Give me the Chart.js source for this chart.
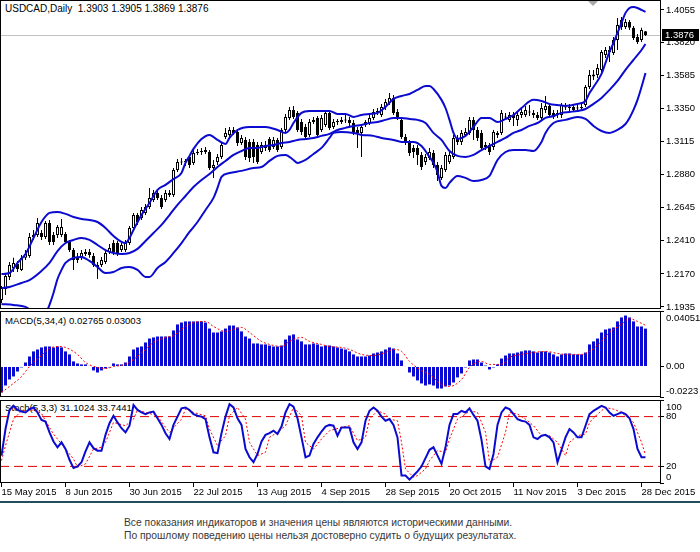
<!DOCTYPE html>
<html>
<head>
<meta charset="utf-8">
<title>USDCAD Daily</title>
<script src="https://cdn.jsdelivr.net/npm/chart.js@4.4.1/dist/chart.umd.min.js"></script>
<style>
  html, body { margin: 0; padding: 0; background: #fff; }
  body { position: relative; width: 700px; height: 552px; overflow: hidden;
         font-family: "Liberation Sans", Arial, sans-serif; }
  .lbl { position: absolute; left: 5px; font-size: 10px; line-height: 12px; color: #000; white-space: pre; }
  .sub { font-size: 9.6px; }
  canvas { position: absolute; left: 0; }
  #rule { position: absolute; left: 0; top: 501px; width: 700px; height: 2px; background: #1f4f5e; }
  #note { position: absolute; left: 124px; top: 516px; font-size: 10.3px; line-height: 13px; color: #383838; white-space: nowrap; }
</style>
</head>
<body>
<div class="lbl" id="title" style="top:3px"></div>
<div class="lbl sub" id="macdTitle" style="top:315px"></div>
<div class="lbl sub" id="stochTitle" style="top:402px"></div>
<canvas id="main" width="700" height="314" style="top:0"></canvas>
<canvas id="macd" width="700" height="90" style="top:310px"></canvas>
<canvas id="stoch" width="700" height="103" style="top:399px"></canvas>
<div id="rule"></div>
<div id="note">Все показания индикаторов и значения цены являются историческими данными.<br>По прошлому поведению цены нельзя достоверно судить о будущих результатах.</div>
<script>
// ---- data ----
var dateLabels = ['15 May 2015', '8 Jun 2015', '30 Jun 2015', '22 Jul 2015', '13 Aug 2015', '4 Sep 2015',
                  '28 Sep 2015', '20 Oct 2015', '11 Nov 2015', '3 Dec 2015', '28 Dec 2015'];
var dateIdx = [0, 16, 32, 48, 64, 80, 96, 112, 128, 144, 160];
var priceTicks = [1.4055, 1.3820, 1.3585, 1.3350, 1.3115, 1.2880, 1.2645, 1.2410, 1.2170, 1.1935];

var opens = [
  1.1984,1.2063,1.2149,1.2213,1.2242,1.2199,1.2285,1.2299,1.2434,1.2449,
  1.2463,1.2434,1.2534,1.2449,1.2449,1.2449,1.2456,1.2399,1.2341,1.2285,
  1.2292,1.2313,1.2327,1.2299,1.2235,1.2235,1.2256,1.2327,1.2391,1.2391,
  1.2341,1.2341,1.2391,1.2499,1.2591,1.2570,1.2606,1.2648,1.2698,1.2748,
  1.2713,1.2698,1.2734,1.2734,1.2913,1.2970,1.2970,1.3006,1.2963,1.3034,
  1.3041,1.3041,1.3041,1.2927,1.2970,1.3006,1.3148,1.3163,1.3198,1.3184,
  1.3105,1.3127,1.3113,1.3113,1.3091,1.3041,1.3091,1.3134,1.3077,1.3127,
  1.3077,1.3198,1.3284,1.3341,1.3320,1.3255,1.3220,1.3163,1.3255,1.3284,
  1.3198,1.3234,1.3320,1.3220,1.3255,1.3255,1.3270,1.3270,1.3248,1.3198,
  1.3177,1.3234,1.3248,1.3284,1.3327,1.3305,1.3363,1.3391,1.3427,1.3327,
  1.3270,1.3148,1.3105,1.3070,1.3070,1.3020,1.2970,1.2998,1.3034,1.2948,
  1.2856,1.2913,1.2970,1.3006,1.3141,1.3113,1.3163,1.3177,1.3270,1.3198,
  1.3177,1.3091,1.3091,1.3077,1.3177,1.3177,1.3291,1.3270,1.3305,1.3270,
  1.3305,1.3305,1.3327,1.3320,1.3305,1.3284,1.3341,1.3370,1.3320,1.3320,
  1.3305,1.3363,1.3363,1.3363,1.3355,1.3355,1.3377,1.3505,1.3580,1.3591,
  1.3627,1.3734,1.3755,1.3748,1.3841,1.3984,1.3934,1.3969,1.3927,1.3862,
  1.3841,1.3903];
var highs = [
  1.2084,1.2177,1.2256,1.2285,1.2263,1.2306,1.2341,1.2463,1.2484,1.2570,
  1.2484,1.2549,1.2556,1.2470,1.2520,1.2563,1.2470,1.2413,1.2356,1.2320,
  1.2341,1.2349,1.2349,1.2320,1.2256,1.2292,1.2341,1.2384,1.2413,1.2406,
  1.2399,1.2413,1.2513,1.2606,1.2606,1.2648,1.2670,1.2784,1.2770,1.2770,
  1.2734,1.2770,1.2770,1.2927,1.2991,1.2998,1.2991,1.3020,1.3055,1.3063,
  1.3070,1.3077,1.3055,1.2984,1.3027,1.3105,1.3213,1.3220,1.3220,1.3205,
  1.3163,1.3148,1.3134,1.3134,1.3113,1.3113,1.3120,1.3148,1.3148,1.3141,
  1.3213,1.3312,1.3363,1.3370,1.3334,1.3277,1.3241,1.3277,1.3291,1.3298,
  1.3305,1.3341,1.3341,1.3277,1.3277,1.3291,1.3305,1.3291,1.3270,1.3220,
  1.3241,1.3270,1.3305,1.3348,1.3355,1.3384,1.3420,1.3462,1.3448,1.3348,
  1.3291,1.3170,1.3127,1.3091,1.3091,1.3041,1.3027,1.3070,1.3055,1.2970,
  1.2948,1.3041,1.3041,1.3163,1.3163,1.3198,1.3213,1.3291,1.3291,1.3220,
  1.3198,1.3113,1.3105,1.3198,1.3191,1.3341,1.3320,1.3327,1.3327,1.3327,
  1.3355,1.3370,1.3377,1.3341,1.3327,1.3391,1.3441,1.3384,1.3341,1.3341,
  1.3391,1.3391,1.3384,1.3384,1.3384,1.3398,1.3519,1.3627,1.3627,1.3669,
  1.3769,1.3791,1.3798,1.3862,1.3998,1.4005,1.3991,1.3984,1.3941,1.3884,
  1.3927,1.3905];
var lows = [
  1.1963,1.2020,1.2127,1.2184,1.2184,1.2192,1.2270,1.2285,1.2413,1.2434,
  1.2413,1.2420,1.2377,1.2377,1.2427,1.2434,1.2384,1.2327,1.2199,1.2249,
  1.2270,1.2299,1.2285,1.2220,1.2134,1.2220,1.2242,1.2313,1.2306,1.2299,
  1.2327,1.2327,1.2377,1.2484,1.2520,1.2556,1.2591,1.2634,1.2684,1.2698,
  1.2634,1.2684,1.2720,1.2720,1.2898,1.2948,1.2941,1.2927,1.2948,1.3020,
  1.3020,1.3027,1.2913,1.2856,1.2948,1.2991,1.3134,1.3148,1.3163,1.3084,
  1.3091,1.2984,1.2970,1.2963,1.2956,1.3027,1.3048,1.3041,1.3063,1.3041,
  1.3063,1.3184,1.3270,1.3277,1.3184,1.3163,1.3127,1.3148,1.3241,1.3148,
  1.3184,1.3220,1.3198,1.3205,1.3234,1.3241,1.3248,1.3227,1.3163,1.3070,
  1.3006,1.3220,1.3234,1.3270,1.3305,1.3291,1.3341,1.3377,1.3305,1.3270,
  1.3134,1.3091,1.3013,1.2998,1.2948,1.2913,1.2948,1.2984,1.2927,1.2834,
  1.2841,1.2898,1.2956,1.2991,1.3091,1.3091,1.3148,1.3163,1.3127,1.3120,
  1.3055,1.3055,1.3020,1.3055,1.3141,1.3163,1.3270,1.3255,1.3227,1.3227,
  1.3284,1.3291,1.3298,1.3284,1.3270,1.3270,1.3320,1.3291,1.3277,1.3284,
  1.3284,1.3341,1.3334,1.3327,1.3334,1.3341,1.3363,1.3491,1.3555,1.3569,
  1.3612,1.3712,1.3684,1.3734,1.3769,1.3912,1.3919,1.3912,1.3841,1.3812,
  1.3826,1.3869];
var closes = [
  1.2070,1.2156,1.2235,1.2249,1.2206,1.2285,1.2313,1.2434,1.2449,1.2534,
  1.2434,1.2534,1.2399,1.2399,1.2506,1.2506,1.2399,1.2341,1.2270,1.2270,
  1.2320,1.2327,1.2306,1.2235,1.2220,1.2270,1.2320,1.2356,1.2327,1.2320,
  1.2377,1.2391,1.2499,1.2591,1.2541,1.2627,1.2648,1.2713,1.2748,1.2713,
  1.2648,1.2748,1.2748,1.2913,1.2970,1.2966,1.2974,1.2948,1.3034,1.3041,
  1.3045,1.3055,1.2927,1.2948,1.3006,1.3091,1.3177,1.3198,1.3177,1.3105,
  1.3141,1.3006,1.2998,1.3006,1.2970,1.3091,1.3070,1.3055,1.3127,1.3055,
  1.3198,1.3291,1.3341,1.3291,1.3198,1.3184,1.3148,1.3255,1.3270,1.3163,
  1.3284,1.3320,1.3213,1.3255,1.3259,1.3270,1.3266,1.3248,1.3177,1.3177,
  1.3220,1.3255,1.3284,1.3327,1.3331,1.3363,1.3398,1.3427,1.3320,1.3284,
  1.3148,1.3105,1.3034,1.3041,1.3020,1.2934,1.3006,1.3041,1.2948,1.2877,
  1.2927,1.3020,1.3020,1.3141,1.3113,1.3177,1.3184,1.3270,1.3198,1.3141,
  1.3070,1.3077,1.3041,1.3184,1.3163,1.3320,1.3287,1.3305,1.3284,1.3305,
  1.3327,1.3341,1.3323,1.3305,1.3284,1.3355,1.3370,1.3305,1.3291,1.3305,
  1.3377,1.3359,1.3355,1.3341,1.3351,1.3363,1.3505,1.3591,1.3594,1.3641,
  1.3755,1.3769,1.3769,1.3841,1.3948,1.3934,1.3969,1.3927,1.3855,1.3826,
  1.3912,1.3876];

// Bollinger bands as [bar, price] readings
var bbUpper = [[0,1.2170],[2,1.2177],[4,1.2249],[6,1.2313],[8,1.2427],[10,1.2541],[12,1.2606],[14,1.2613],
  [16,1.2599],[18,1.2577],[20,1.2563],[22,1.2556],[24,1.2541],[26,1.2499],[28,1.2441],[30,1.2399],[31,1.2391],
  [32,1.2427],[33,1.2484],[35,1.2591],[37,1.2677],[39,1.2770],[41,1.2806],[43,1.2848],[45,1.2891],[46,1.2963],
  [47,1.3013],[48,1.3063],[50,1.3134],[52,1.3163],[54,1.3127],[56,1.3098],[57,1.3141],[59,1.3198],[62,1.3220],
  [64,1.3220],[66,1.3220],[69,1.3198],[71,1.3177],[72,1.3198],[73,1.3248],[75,1.3320],[77,1.3334],[80,1.3334],
  [82,1.3334],[84,1.3312],[86,1.3312],[88,1.3291],[90,1.3305],[92,1.3312],[94,1.3320],[96,1.3363],[98,1.3420],
  [100,1.3441],[102,1.3455],[104,1.3484],[106,1.3512],[107,1.3512],[108,1.3491],[110,1.3413],[111,1.3355],
  [112,1.3270],[113,1.3177],[114,1.3134],[116,1.3156],[118,1.3220],[120,1.3284],[122,1.3284],[124,1.3255],
  [126,1.3277],[128,1.3305],[130,1.3355],[133,1.3413],[135,1.3405],[137,1.3384],[139,1.3377],[141,1.3370],
  [144,1.3384],[146,1.3405],[147,1.3462],[148,1.3505],[150,1.3598],[151,1.3677],[152,1.3755],[153,1.3819],
  [154,1.3891],[155,1.3962],[156,1.4034],[157,1.4069],[158,1.4076],[159,1.4069],[160,1.4055],[161,1.4041]];
var bbMiddle = [[0,1.2070],[2,1.2077],[5,1.2106],[7,1.2127],[10,1.2192],[12,1.2249],[14,1.2334],[16,1.2391],
  [18,1.2413],[20,1.2427],[22,1.2413],[24,1.2377],[26,1.2341],[28,1.2320],[30,1.2313],[32,1.2320],[34,1.2349],
  [36,1.2406],[38,1.2463],[40,1.2520],[42,1.2591],[44,1.2663],[46,1.2727],[48,1.2791],[50,1.2841],[52,1.2884],
  [54,1.2934],[56,1.2977],[58,1.3020],[60,1.3048],[62,1.3070],[64,1.3070],[66,1.3084],[68,1.3091],[70,1.3105],
  [72,1.3113],[74,1.3127],[76,1.3134],[78,1.3141],[80,1.3156],[82,1.3170],[84,1.3198],[86,1.3213],[88,1.3227],
  [90,1.3234],[92,1.3248],[94,1.3255],[96,1.3270],[98,1.3284],[100,1.3284],[102,1.3277],[104,1.3270],
  [106,1.3248],[108,1.3177],[110,1.3127],[112,1.3048],[114,1.3013],[116,1.3006],[118,1.3020],[120,1.3055],
  [122,1.3084],[124,1.3113],[126,1.3141],[128,1.3177],[130,1.3198],[132,1.3227],[134,1.3248],[136,1.3284],
  [138,1.3298],[140,1.3320],[142,1.3327],[144,1.3334],[146,1.3348],[148,1.3384],[150,1.3427],[152,1.3484],
  [154,1.3548],[156,1.3627],[158,1.3698],[160,1.3769],[161,1.3812]];
var bbLower = [[0,1.1956],[3,1.1949],[6,1.1935],[8,1.1899],[10,1.1856],[11,1.1885],[12,1.1949],[13,1.2034],
  [14,1.2134],[15,1.2199],[16,1.2249],[18,1.2285],[20,1.2292],[22,1.2263],[24,1.2220],[26,1.2177],[28,1.2184],
  [30,1.2213],[32,1.2220],[34,1.2199],[36,1.2149],[37,1.2149],[39,1.2213],[41,1.2256],[43,1.2320],[45,1.2391],
  [47,1.2470],[49,1.2541],[51,1.2627],[53,1.2713],[54,1.2784],[55,1.2863],[57,1.2891],[60,1.2906],[63,1.2927],
  [65,1.2934],[67,1.2977],[69,1.3013],[71,1.3020],[73,1.2984],[74,1.2963],[76,1.2984],[78,1.3027],[80,1.3070],
  [82,1.3141],[83,1.3177],[85,1.3184],[88,1.3177],[90,1.3163],[93,1.3156],[95,1.3141],[98,1.3127],[100,1.3113],
  [103,1.3113],[105,1.3084],[107,1.3006],[108,1.2963],[109,1.2898],[110,1.2799],[111,1.2784],[112,1.2820],
  [114,1.2870],[116,1.2856],[118,1.2834],[120,1.2841],[122,1.2870],[123,1.2927],[124,1.2984],[126,1.3041],
  [128,1.3055],[131,1.3055],[133,1.3048],[135,1.3113],[136,1.3177],[138,1.3248],[141,1.3270],[144,1.3291],
  [146,1.3277],[148,1.3227],[150,1.3191],[152,1.3177],[154,1.3198],[156,1.3241],[157,1.3284],[158,1.3341],
  [159,1.3413],[160,1.3505],[161,1.3605]];

var macdHist = [
  -0.0190,-0.0139,-0.0095,-0.0073,-0.0037,-0.0007,0.0029,0.0073,0.0110,0.0124,
  0.0139,0.0146,0.0146,0.0139,0.0146,0.0139,0.0110,0.0088,0.0037,0.0022,
  0.0015,0.0015,0.0004,-0.0029,-0.0044,-0.0029,-0.0015,-0.0007,0.0022,0.0015,
  0.0015,0.0029,0.0073,0.0124,0.0139,0.0146,0.0175,0.0204,0.0212,0.0219,
  0.0219,0.0219,0.0219,0.0263,0.0307,0.0321,0.0329,0.0329,0.0329,0.0329,
  0.0329,0.0321,0.0277,0.0248,0.0248,0.0256,0.0277,0.0299,0.0299,0.0285,
  0.0256,0.0219,0.0204,0.0168,0.0168,0.0161,0.0161,0.0153,0.0146,0.0146,
  0.0153,0.0197,0.0226,0.0234,0.0197,0.0183,0.0161,0.0161,0.0168,0.0161,
  0.0146,0.0153,0.0153,0.0146,0.0139,0.0131,0.0124,0.0110,0.0088,0.0073,
  0.0073,0.0073,0.0080,0.0095,0.0102,0.0110,0.0124,0.0139,0.0131,0.0095,
  0.0044,-0.0004,-0.0044,-0.0073,-0.0102,-0.0124,-0.0139,-0.0131,-0.0139,-0.0161,
  -0.0161,-0.0146,-0.0139,-0.0117,-0.0080,-0.0051,-0.0007,0.0044,0.0051,0.0051,
  0.0029,0.0007,-0.0022,-0.0007,0.0015,0.0058,0.0080,0.0095,0.0095,0.0102,
  0.0110,0.0117,0.0117,0.0110,0.0102,0.0110,0.0110,0.0102,0.0088,0.0073,
  0.0088,0.0095,0.0095,0.0088,0.0088,0.0088,0.0102,0.0161,0.0183,0.0204,
  0.0248,0.0270,0.0277,0.0285,0.0329,0.0358,0.0372,0.0358,0.0329,0.0292,
  0.0292,0.02765];
var macdSignal = [[0,-0.0190],[2,-0.0146],[5,-0.0073],[7,0.0000],[10,0.0080],[12,0.0131],[14,0.0146],
  [16,0.0139],[19,0.0088],[21,0.0029],[24,-0.0007],[26,-0.0015],[28,0.0000],[31,0.0015],[33,0.0051],
  [36,0.0124],[38,0.0175],[41,0.0212],[43,0.0226],[46,0.0292],[48,0.0321],[51,0.0329],[53,0.0292],
  [56,0.0256],[58,0.0270],[60,0.0285],[62,0.0248],[65,0.0183],[67,0.0161],[70,0.0146],[72,0.0183],
  [75,0.0212],[77,0.0183],[80,0.0161],[82,0.0146],[85,0.0139],[87,0.0124],[90,0.0088],[93,0.0080],
  [96,0.0102],[98,0.0124],[100,0.0110],[102,0.0037],[105,-0.0029],[107,-0.0058],[110,-0.0131],
  [112,-0.0146],[115,-0.0095],[117,-0.0007],[120,0.0037],[122,0.0015],[125,0.0015],[127,0.0066],
  [130,0.0088],[133,0.0102],[136,0.0110],[139,0.0095],[141,0.0088],[145,0.0088],[147,0.0110],
  [150,0.0183],[152,0.0248],[155,0.0307],[157,0.0350],[159,0.0329],[161,0.03003]];
var macdTicks = [0.04051, 0, -0.0223];
var macdTickLabels = ['0.04051', '0.00', '-0.0223'];

var stochMain = [
  33,65,88,93,88,86,85,89,91,85, 76,74,61,50,43,49,41,28,18,20,
  25,38,49,42,39,39,58,72,81,73, 66,61,69,94,88,85,83,85,86,78,
  70,60,53,70,80,90,91,88,83,81, 80,77,55,37,36,60,80,95,91,78,
  70,41,31,25,35,50,58,60,63,59, 68,85,95,92,78,55,31,33,47,55,
  62,68,70,69,57,67,67,67,49,41, 49,75,87,91,87,80,75,77,70,55,
  9,9,4,9,14,20,30,40,43,33, 23,43,70,83,83,87,85,90,82,75,
  52,20,17,35,70,85,91,89,83,77, 75,74,70,55,53,57,58,55,49,25,
  40,55,65,61,55,55,69,83,87,90, 93,91,85,81,83,85,83,78,65,41,
  31,31.1024];
var stochSignal = [[0,27],[1,45],[3,77],[5,87],[8,88],[10,84],[11,75],[13,59],[15,47],[16,41],[18,29],
  [19,19],[21,23],[23,41],[25,43],[26,49],[28,73],[31,69],[33,77],[34,88],[36,85],[39,81],[41,67],[42,61],
  [45,77],[46,89],[48,85],[51,81],[52,65],[54,45],[56,57],[57,81],[59,91],[61,77],[62,49],[64,33],[66,37],
  [67,55],[69,61],[71,69],[73,91],[75,81],[76,49],[78,41],[80,53],[82,63],[85,67],[87,69],[89,51],[91,55],
  [92,77],[94,87],[96,83],[97,77],[99,75],[100,49],[101,17],[103,7],[104,9],[106,17],[107,27],[109,39],
  [111,37],[112,53],[114,77],[116,83],[117,87],[119,85],[121,61],[122,25],[124,31],[126,61],[127,85],
  [129,83],[131,77],[133,69],[135,57],[137,57],[139,49],[141,33],[142,49],[144,57],[146,59],[147,73],
  [149,83],[151,91],[153,89],[155,85],[156,81],[158,73],[160,49],[161,33.7441]];
var stochLevels = [80, 20];
var stochTicks = [100, 80, 20, 0];

// ---- look ----
var BLUE = '#0a0ad0';
var RED = '#ff0000';
var FONT = '"Liberation Sans", Arial, sans-serif';
var X_MIN = -0.375, X_MAX = 164.625;   // 4 px per bar over a 660 px wide plot
var last = closes.length - 1;

Chart.defaults.font.family = FONT;
Chart.defaults.color = '#000';

function toPoints(pairs) {
    return pairs.map(function (p) { return { x: p[0], y: p[1] }; });
}

document.getElementById('title').textContent = 'USDCAD,Daily  ' +
    [opens, highs, lows, closes].map(function (a) { return a[last].toFixed(4); }).join(' ');
document.getElementById('macdTitle').textContent = 'MACD(5,34,4) ' +
    macdHist[last].toFixed(5) + ' ' + macdSignal[macdSignal.length - 1][1].toFixed(5);
document.getElementById('stochTitle').textContent = 'Stoch(5,3,3) ' +
    stochMain[last].toFixed(4) + ' ' + stochSignal[stochSignal.length - 1][1].toFixed(4);

// border round each plot area
var frame = {
    id: 'frame',
    afterDraw: function (chart) {
        var ctx = chart.ctx, a = chart.chartArea;
        ctx.save();
        ctx.strokeStyle = '#000';
        ctx.lineWidth = 1;
        ctx.strokeRect(a.left + 0.5, a.top + 0.5, a.right - a.left, a.bottom - a.top - 1);
        ctx.restore();
    }
};

// right hand labels kept inside the panel, like the terminal does
function sideLabels(values, labels) {
    return {
        id: 'sideLabels',
        afterDraw: function (chart) {
            var ctx = chart.ctx, a = chart.chartArea, y = chart.scales.y;
            ctx.save();
            ctx.font = '9.5px ' + FONT;
            ctx.fillStyle = '#000';
            ctx.textBaseline = 'middle';
            values.forEach(function (v, i) {
                var py = y.getPixelForValue(v);
                py = Math.min(Math.max(py, a.top + 7), a.bottom - 6);
                ctx.fillText(labels[i], a.right + 6, py);
            });
            ctx.restore();
        }
    };
}

var mainDecor = {
    id: 'mainDecor',
    beforeDatasetsDraw: function (chart) {
        var ctx = chart.ctx, a = chart.chartArea;
        var py = Math.round(chart.scales.y.getPixelForValue(closes[last])) + 0.5;
        ctx.save();
        ctx.strokeStyle = '#c0c0c0';
        ctx.lineWidth = 1;
        ctx.beginPath();
        ctx.moveTo(a.left, py);
        ctx.lineTo(a.right, py);
        ctx.stroke();
        ctx.restore();
    },
    afterDraw: function (chart) {
        var ctx = chart.ctx, a = chart.chartArea;
        var py = Math.round(chart.scales.y.getPixelForValue(closes[last]));
        ctx.save();
        ctx.fillStyle = '#000';
        ctx.fillRect(a.right + 2, py - 6, 37, 12);
        ctx.fillStyle = '#fff';
        ctx.font = '9.5px ' + FONT;
        ctx.textBaseline = 'middle';
        ctx.fillText(closes[last].toFixed(4), a.right + 5, py);
        // chart shift marker
        ctx.fillStyle = '#a8a8a8';
        ctx.beginPath();
        ctx.moveTo(588, a.top + 1);
        ctx.lineTo(598, a.top + 1);
        ctx.lineTo(593, a.top + 6);
        ctx.closePath();
        ctx.fill();
        ctx.restore();
    }
};

var hiddenX = { type: 'linear', min: X_MIN, max: X_MAX, offset: false, display: false };

function rightAxis(min, max, ticks, showLabels) {
    return {
        position: 'right', min: min, max: max,
        afterBuildTicks: function (s) { s.ticks = ticks.map(function (v) { return { value: v }; }); },
        afterFit: function (s) { s.width = 40; s.paddingTop = 0; s.paddingBottom = 0; },
        grid: { drawOnChartArea: false, drawTicks: true, tickLength: 4, color: '#000', lineWidth: 1 },
        border: { display: false },
        ticks: {
            display: showLabels, autoSkip: false, padding: 2, font: { size: 9.5 }, color: '#000',
            callback: function (v) { return v.toFixed(4); }
        }
    };
}

var common = {
    responsive: false,
    animation: false,
    devicePixelRatio: 1,
    events: [],
    plugins: { legend: { display: false }, tooltip: { enabled: false } }
};

function bandSet(pairs) {
    return {
        type: 'line', data: toPoints(pairs), borderColor: BLUE, borderWidth: 2,
        pointRadius: 0, cubicInterpolationMode: 'monotone', order: 1
    };
}

// ---- price panel ----
new Chart(document.getElementById('main'), {
    type: 'bar',
    data: {
        datasets: [
            bandSet(bbUpper), bandSet(bbMiddle), bandSet(bbLower),
            {
                type: 'bar',
                data: highs.map(function (h, i) { return { x: i, y: [lows[i], h] }; }),
                backgroundColor: '#000', barThickness: 1, grouped: false, inflateAmount: 0, order: 3
            },
            {
                type: 'bar',
                data: opens.map(function (o, i) { return { x: i, y: [o, closes[i]] }; }),
                backgroundColor: opens.map(function (o, i) { return closes[i] > o ? '#fff' : '#000'; }),
                borderColor: '#000', borderWidth: 1, borderSkipped: false, barThickness: 3,
                grouped: false, inflateAmount: 0, minBarLength: 1, order: 2
            }
        ]
    },
    options: Object.assign({}, common, {
        layout: { padding: { top: 0, left: 0, right: 0, bottom: 5 } },
        scales: { x: hiddenX, y: rightAxis(1.1920, 1.4126, priceTicks, true) }
    }),
    plugins: [mainDecor, frame]
});

// ---- MACD panel ----
new Chart(document.getElementById('macd'), {
    type: 'bar',
    data: {
        datasets: [
            {
                type: 'line', data: toPoints(macdSignal), borderColor: RED, borderWidth: 1,
                borderDash: [2, 2], pointRadius: 0, cubicInterpolationMode: 'monotone', order: 1
            },
            {
                type: 'bar', data: macdHist.map(function (v, i) { return { x: i, y: v }; }),
                backgroundColor: BLUE, barThickness: 3, grouped: false, inflateAmount: 0, order: 2
            }
        ]
    },
    options: Object.assign({}, common, {
        layout: { padding: { top: 1, left: 0, right: 0, bottom: 3 } },
        scales: { x: hiddenX, y: rightAxis(-0.0223, 0.04051, macdTicks, false) }
    }),
    plugins: [frame, sideLabels(macdTicks, macdTickLabels)]
});

// ---- Stochastic panel with the date axis ----
var levelSets = stochLevels.map(function (lv) {
    return {
        data: [{ x: X_MIN, y: lv }, { x: X_MAX, y: lv }], borderColor: '#e00000', borderWidth: 1,
        borderDash: [9, 5], pointRadius: 0, order: 3
    };
});

new Chart(document.getElementById('stoch'), {
    type: 'line',
    data: {
        datasets: levelSets.concat([
            {
                data: toPoints(stochSignal), borderColor: RED, borderWidth: 1, borderDash: [2, 2],
                pointRadius: 0, order: 2
            },
            {
                data: stochMain.map(function (v, i) { return { x: i, y: v }; }), borderColor: BLUE,
                borderWidth: 2, pointRadius: 0, order: 1
            }
        ])
    },
    options: Object.assign({}, common, {
        layout: { padding: { top: 1, left: 0, right: 0, bottom: 0 } },
        scales: {
            x: {
                type: 'linear', min: X_MIN, max: X_MAX, offset: false,
                afterBuildTicks: function (s) { s.ticks = dateIdx.map(function (v) { return { value: v }; }); },
                afterFit: function (s) { s.height = 19; s.paddingLeft = 0; s.paddingRight = 0; },
                grid: { drawOnChartArea: false, drawTicks: true, tickLength: 4, color: '#000' },
                border: { display: false },
                ticks: {
                    align: 'start', maxRotation: 0, autoSkip: false, padding: 0,
                    font: { size: 9.5 }, color: '#000',
                    callback: function (v, i) { return dateLabels[i]; }
                }
            },
            y: rightAxis(0, 100, stochTicks, false)
        }
    }),
    plugins: [frame, sideLabels(stochTicks, ['100', '80', '20', '0'])]
});
</script>
</body>
</html>
